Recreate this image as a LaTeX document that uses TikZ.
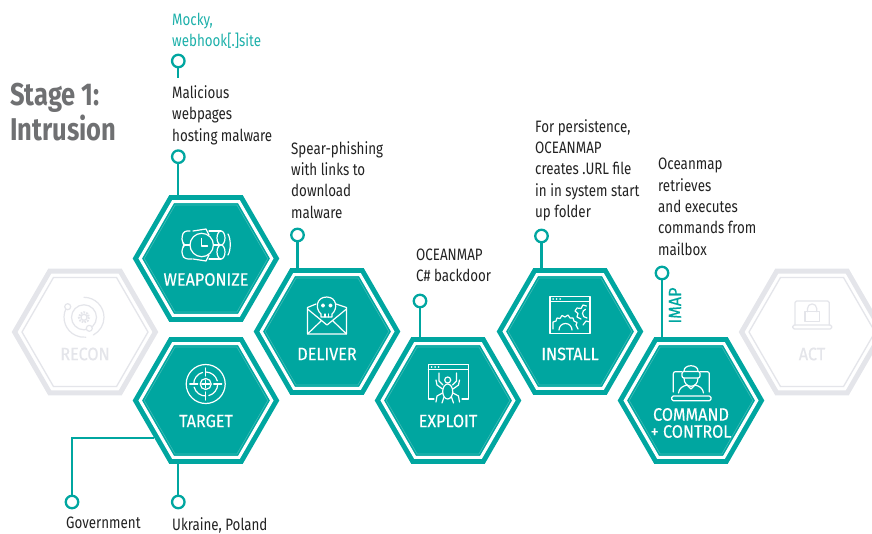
\documentclass[tikz,border=0pt]{standalone}
\usepackage{fontspec}
\setmainfont{Fira Sans}[FakeStretch=0.81]
\newfontfamily\labelfont{Fira Sans}[FakeStretch=0.9,FakeBold=0.3]
\usetikzlibrary{shapes.geometric}
\definecolor{hexteal}{HTML}{00A6A0}
\definecolor{hexedgeteal}{HTML}{3FBBB6}
\definecolor{mockyteal}{HTML}{1DB0AA}
\definecolor{hexgray}{HTML}{E4E5EA}
\definecolor{stagegray}{HTML}{6F7072}
\definecolor{bodygray}{HTML}{222222}
\tikzset{
hexedge/.style={regular polygon,regular polygon sides=6,inner sep=0pt,outer sep=0pt,minimum size=123.6pt,draw=hexedgeteal,line width=0.6pt},
hexbase/.style={regular polygon,regular polygon sides=6,inner sep=0pt,outer sep=6.5pt,minimum size=131.6pt},
hexstage/.style={hexbase,draw=hexteal,fill=hexteal,line width=5pt,double=white,double distance=3pt,label={[hexedge]center:{}}},
hexidle/.style={hexbase,draw=hexgray,fill=white,line width=5pt,outer sep=2.5pt,minimum size=140.8pt},
hexring/.style={regular polygon,regular polygon sides=6,inner sep=0pt,outer sep=0pt,minimum size=126pt,draw=hexgray,line width=1.3pt},
hexlabel/.style={text=white,font=\labelfont\fontsize{18}{16.5}\selectfont,align=center},
idlelabel/.style={hexlabel,text=hexgray},
stagetext/.style={anchor=north west,inner sep=0pt,align=left,text=bodygray,font=\fontsize{16.5}{21.4}\selectfont},
dot/.style={circle,draw=hexteal,fill=white,line width=2.3pt,inner sep=0pt,outer sep=1.15pt,minimum size=12.5pt},
link/.style={draw=hexteal,line width=2.2pt},
icon/.style={draw=white,line width=1.2pt,line cap=round,line join=round},
idleicon/.style={draw=hexgray,line width=1.2pt,line cap=round,line join=round}
}
\begin{document}
\begin{tikzpicture}[x=1pt,y=-1pt]
\useasboundingbox (0,0) rectangle (872,533);
\clip (0,0) rectangle (872,533);
\node[hexidle] (recon) at (85,332) {};
\node[hexring] (reconring) at (85,332) {};
\node[hexidle] (act) at (812,332) {};
\node[hexring] (actring) at (812,332) {};
\node[hexstage] (weaponize) at (206,258.5) {};
\node[hexstage] (target) at (206,400.5) {};
\node[hexstage] (deliver) at (327,331.5) {};
\node[hexstage] (exploit) at (448,400.5) {};
\node[hexstage] (install) at (570,331.5) {};
\node[hexstage] (command) at (691,400.5) {};
\node[idlelabel] (reconlabel) at (85,354) {RECON};
\node[idlelabel] (actlabel) at (812,354) {ACT};
\node[hexlabel] (weaponizelabel) at (206,279.5) {WEAPONIZE};
\node[hexlabel] (targetlabel) at (206,421) {TARGET};
\node[hexlabel] (deliverlabel) at (327,354) {DELIVER};
\node[hexlabel] (exploitlabel) at (448,421) {EXPLOIT};
\node[hexlabel] (installlabel) at (570,354) {INSTALL};
\node[hexlabel] (commandlabel) at (691,423) {COMMAND\\[0.5pt]+ CONTROL};
\node[anchor=north west,inner sep=0pt,align=left,text=stagegray,font=\fontsize{31.5}{35}\selectfont\bfseries] (stage) at (10,83) {Stage 1:\\Intrusion};
\node[stagetext,text=mockyteal] (mockytext) at (172,13) {Mocky,\\webhook[.]site};
\node[stagetext] (malicioustext) at (172,85.5) {Malicious\\webpages\\hosting malware};
\node[stagetext] (speartext) at (291,141) {Spear-phishing\\with links to\\download\\malware};
\node[stagetext] (backdoortext) at (416,248.5) {OCEANMAP\\C\# backdoor};
\node[stagetext] (persisttext) at (535,119) {For persistence,\\OCEANMAP\\creates .URL file\\in in system start\\up folder};
\node[stagetext] (mailboxtext) at (658,158) {Oceanmap\\retrieves\\and executes\\commands from\\mailbox};
\node[stagetext] (govtext) at (66,517) {Government};
\node[stagetext] (countrytext) at (172,517) {Ukraine, Poland};
\node[text=hexteal,rotate=90,inner sep=0pt,font=\labelfont\fontsize{18}{18}\selectfont] (imaptext) at (675,305.5) {IMAP};
\node[dot] (mockydot) at (178.3,61) {};
\coordinate (mockyend) at (178.3,78);
\node[dot] (maliciousdot) at (178.3,156.7) {};
\node[dot] (deliverdot) at (297.5,235) {};
\node[dot] (exploitdot) at (420,301) {};
\node[dot] (installdot) at (541.5,236) {};
\node[dot] (commanddot) at (662,273) {};
\node[dot] (govdot) at (72,502) {};
\node[dot] (countrydot) at (178.3,502) {};
\draw[link] (mockydot) -- (mockyend);
\draw[link] (maliciousdot) -- (maliciousdot |- weaponize.north);
\draw[link] (deliverdot) -- (deliverdot |- deliver.north);
\draw[link] (exploitdot) -- (exploitdot |- exploit.north);
\draw[link] (installdot) -- (installdot |- install.north);
\draw[link] (commanddot) -- (commanddot |- command.north);
\draw[link] (countrydot) -- (countrydot |- target.south);
\draw[link] (govdot) |- (target.216);
\draw[idleicon] (84,297.3) arc (-90:62:20);
\draw[idleicon] (65.9,308.8) arc (205:85:20);
\draw[idleicon] (84,317.3) circle (12.5);
\draw[idleicon,dashed,dash pattern=on 1.6pt off 1.2pt,line cap=butt,line width=2.2pt] (84,317.3) circle (5);
\draw[idleicon] (84,317.3) circle (3);
\draw[idleicon,fill=white] (67.7,306.7) circle (3);
\draw[idleicon,fill=white] (89.3,328.3) circle (3);
\draw[idleicon,rounded corners=1.5pt] (795,325) -- (795,301) -- (829.3,301) -- (829.3,325);
\draw[idleicon,rounded corners=1.5pt] (792.7,325) -- (831.7,325) -- (831.7,329) -- (792.7,329) -- cycle;
\draw[idleicon] (805,311.7) rectangle (819.3,321.7);
\draw[idleicon] (807.5,311.7) -- (807.5,308.5) arc (180:360:4.6) -- (816.7,311.7);
\draw[icon,rounded corners=3pt] (190,231) -- (184,231) -- (182,236) -- (182,242) -- (185,245) -- (182,248) -- (182,255) -- (185,259) -- (192,259);
\draw[icon] (201.7,245) circle (11.7);
\draw[icon] (201.7,238.5) -- (201.7,246) -- (207.5,246);
\draw[icon] (184,245) -- (190,245) (213.5,245) -- (220,245);
\draw[icon] (193,231) -- (206,229) -- (209,235) (193,259) -- (206,261) -- (209,255);
\draw[icon] (209,231) -- (221,231) (209,259) -- (221,259);
\draw[icon] (221,238) ellipse (4 and 7) (221,252) ellipse (4 and 7);
\draw[icon] (228,234) .. controls (231,239) and (231,250) .. (228,255);
\draw[icon] (205.7,384) circle (19.5);
\draw[icon] (205.7,384) circle (5.5);
\draw[icon] (205.7,372) arc (-90:-15:12) (217.7,384) arc (0:75:12) (205.7,396) arc (90:165:12) (193.7,384) arc (180:255:12);
\draw[icon] (205.7,368) -- (205.7,376) (205.7,392) -- (205.7,400) (189.7,384) -- (197.7,384) (213.7,384) -- (221.7,384);
\draw[icon] (205.7,380) -- (205.7,388) (201.7,384) -- (209.7,384);
\draw[icon] (316,304) -- (307.5,307.5) -- (307.5,334) -- (346.5,334) -- (346.5,307.5) -- (336,304);
\draw[icon] (307.5,309) -- (327,325) -- (346.5,309) (307.5,334) -- (321,321) (346.5,334) -- (333,321);
\draw[icon,fill=hexteal] (321,314) .. controls (315,309) and (316,297) .. (326.7,297) .. controls (337,297) and (338,309) .. (332,314) -- (332,317) -- (321,317) -- cycle;
\draw[icon,fill=white] (323,305.5) circle (1.5) (330.5,305.5) circle (1.5);
\draw[icon] (325,317) -- (325,314) (328.5,317) -- (328.5,314);
\draw[icon] (434,399) -- (428.3,399) -- (428.3,364.5) -- (468.3,364.5) -- (468.3,399) -- (462,399);
\draw[icon] (428.3,369.5) -- (468.3,369.5);
\draw[icon,line width=1.5pt] (431.5,367) -- (431.7,367) (435,367) -- (435.2,367) (438.5,367) -- (438.7,367);
\draw[icon] (447.7,391.5) ellipse (5 and 7.5);
\draw[icon] (447.7,380) circle (3);
\draw[icon] (443,385) -- (439,381) -- (439,373) (452.5,385) -- (456.5,381) -- (456.5,373);
\draw[icon] (442.5,389) -- (437,385) -- (436,380) (453,389) -- (458.5,385) -- (459.5,380);
\draw[icon] (442.5,393) -- (437,396) -- (436,402) (453,393) -- (458.5,396) -- (459.5,402);
\draw[icon] (444,397) -- (442,403) (451.5,397) -- (453.5,403);
\draw[icon] (550,296.7) rectangle (590,333.3);
\draw[icon] (550,301.7) -- (590,301.7);
\draw[icon,line width=1.5pt] (553,299.2) -- (553.2,299.2) (556.5,299.2) -- (556.7,299.2) (560,299.2) -- (560.2,299.2);
\draw[icon] (553,329) -- (553,322) -- (556,321) -- (557,318) -- (560,318.5) -- (562,315.5) -- (565,317) -- (568,315) -- (570,318) -- (573,318) -- (574,321) -- (577,322.5) -- (576,325) -- (578,329);
\draw[icon] (559,330) arc (180:360:6.5);
\draw[icon] (581,319) -- (577,317) -- (578,313.5) -- (575,311) -- (577,308) -- (581,308.5) -- (583,305) -- (586.5,306);
\draw[icon] (587,318) arc (90:250:4.5);
\draw[icon] (583,325) -- (586,321) -- (590,322);
\draw[icon,rounded corners=1.5pt] (671.7,396) rectangle (711,400.7);
\draw[icon,rounded corners=2pt] (673.3,392) -- (673.3,371.7) -- (681.7,371.7) (700,371.7) -- (709.3,371.7) -- (709.3,392);
\draw[icon] (684,371) .. controls (684,364) and (698,364) .. (698,371);
\draw[icon,rounded corners=2pt] (682,371.5) -- (700,371.5) -- (700,378) -- (682,378) -- cycle;
\draw[icon] (684,378) .. controls (684,389) and (698,389) .. (698,378);
\draw[icon] (678.5,393) .. controls (679,388) and (683,386) .. (687,385) -- (691,389) -- (695,385) .. controls (699,386) and (703,388) .. (703.5,393);
\end{tikzpicture}
\end{document}
